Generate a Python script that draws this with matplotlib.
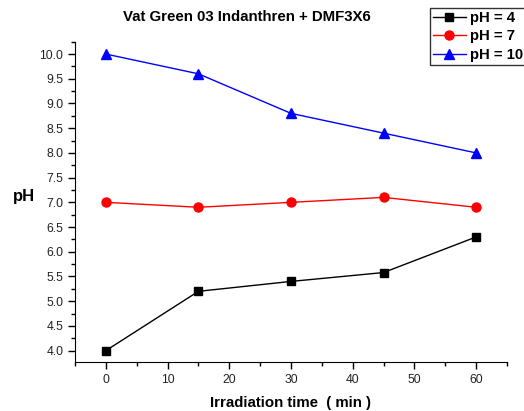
import matplotlib
matplotlib.use("Agg")
import matplotlib.pyplot as plt
from matplotlib.ticker import MultipleLocator

plt.rcParams['font.family'] = ['Liberation Sans', 'DejaVu Sans']

time_min = [0, 15, 30, 45, 60]
ph4 = [4.0, 5.2, 5.4, 5.58, 6.3]
ph7 = [7.0, 6.9, 7.0, 7.1, 6.9]
ph10 = [10.0, 9.6, 8.8, 8.4, 8.0]
labels = ["pH = 4", "pH = 7", "pH = 10"]

W, H = 524, 411
fig = plt.figure(figsize=(W/100, H/100), dpi=100)
ax = fig.add_axes([75/W, 1-362/H, (507-75)/W, (362-41.7)/H])

l1, = ax.plot(time_min, ph4, color='black', marker='s', ms=6, lw=1)
l2, = ax.plot(time_min, ph7, color='red', marker='o', ms=6.5, lw=1)
l3, = ax.plot(time_min, ph10, color='blue', marker='^', ms=7, lw=1)

ax.set_xlim(-5, 65)
ax.set_ylim(3.77, 10.25)
ax.xaxis.set_major_locator(MultipleLocator(10))
ax.xaxis.set_minor_locator(MultipleLocator(5))
ax.yaxis.set_major_locator(MultipleLocator(0.5))
ax.yaxis.set_minor_locator(MultipleLocator(0.25))
ax.set_yticks([4.0 + 0.5*i for i in range(13)])
ax.set_yticklabels([f"{4.0 + 0.5*i:.1f}" for i in range(13)])
for s in ['top', 'right']:
    ax.spines[s].set_visible(False)
ax.tick_params(which='major', direction='out', length=5, width=1, labelsize=8.7, labelcolor='#222222')
ax.tick_params(which='minor', direction='out', length=3, width=1)

fig.text(247/W, 1-17/H, "Vat Green 03 Indanthren + DMF3X6", ha='center', va='center',
         fontsize=10.8, fontweight='bold')
fig.text(24/W, 1-196/H, "pH", ha='center', va='center', fontsize=12, fontweight='bold')
fig.text(291/W, 1-403/H, "Irradiation time  ( min )", ha='center', va='center',
         fontsize=10.8, fontweight='bold')

leg = fig.legend([l1, l2, l3], labels, loc='upper left', bbox_to_anchor=(430/W, 1-8/H),
                 frameon=True, fancybox=False, edgecolor='black',
                 prop={'weight': 'bold', 'size': 10.7}, handlelength=2.2, handletextpad=0.3,
                 borderpad=0.2, labelspacing=0.3, borderaxespad=0)
leg.get_frame().set_linewidth(1)

fig.savefig("out.png", dpi=100)
